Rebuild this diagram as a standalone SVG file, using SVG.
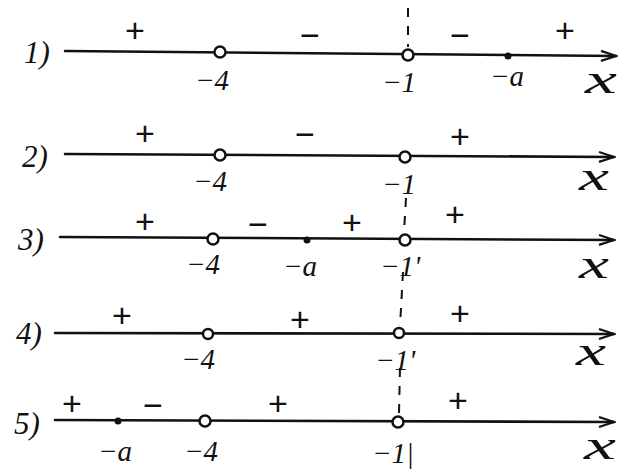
<svg xmlns="http://www.w3.org/2000/svg" width="629" height="473" viewBox="0 0 629 473">
<style>
.ax{stroke:#111;stroke-width:2.6;fill:none;stroke-linecap:round}
.oc{stroke:#111;stroke-width:2.5;fill:#fff}
.dt{fill:#111}
.t{font-family:"Liberation Serif",serif;font-style:italic;font-size:29px;fill:#111}
.x{font-family:"Liberation Serif",serif;font-style:italic;font-size:42px;fill:#111}
.s{font-family:"Liberation Sans",sans-serif;font-size:34px;fill:#111;text-anchor:middle}
.n{font-family:"Liberation Serif",serif;font-style:italic;font-size:31px;fill:#111}
</style>
<defs>
<marker id="ar" markerWidth="18" markerHeight="14" refX="16" refY="7" orient="auto" markerUnits="userSpaceOnUse">
<path d="M1,2 L16,7 L1,12" fill="none" stroke="#111" stroke-width="2.2"/>
</marker>
</defs>
<rect width="629" height="473" fill="#fff"/>
<g id="connectors">
<path d="M408,8 L408,47 M406,198 L404,232 M403,272 L400,326 M400,368 L399,414" stroke="#111" stroke-width="2" stroke-dasharray="9,9" fill="none"/>
</g>
<g id="line1">
<text class="n" x="24" y="63">1)</text>
<path class="ax" d="M65,51 L616,56" marker-end="url(#ar)"/>
<circle class="oc" cx="220" cy="52" r="5.5"/>
<circle class="oc" cx="408" cy="55" r="5.5"/>
<circle class="dt" cx="508" cy="56" r="3.5"/>
<text class="t" x="195" y="90">−4</text>
<text class="t" x="382" y="92">−1</text>
<text class="t" x="490" y="86">−a</text>
<text class="x" x="585" y="93" textLength="32" lengthAdjust="spacingAndGlyphs">x</text>
<text class="s" x="135" y="42">+</text>
<text class="s" x="310" y="47">−</text>
<text class="s" x="460" y="47">−</text>
<text class="s" x="565" y="42">+</text>
</g>
<g id="line2">
<text class="n" x="22" y="167">2)</text>
<path class="ax" d="M65,154 L614,157" marker-end="url(#ar)"/>
<circle class="oc" cx="220" cy="155" r="5.5"/>
<circle class="oc" cx="405" cy="157" r="5.5"/>
<text class="t" x="193" y="191">−4</text>
<text class="t" x="382" y="194">−1</text>
<text class="x" x="579" y="190" textLength="30" lengthAdjust="spacingAndGlyphs">x</text>
<text class="s" x="145" y="145">+</text>
<text class="s" x="305" y="146">−</text>
<text class="s" x="460" y="148">+</text>
</g>
<g id="line3">
<text class="n" x="18" y="250">3)</text>
<path class="ax" d="M60,237 L614,240" marker-end="url(#ar)"/>
<circle class="oc" cx="213" cy="239" r="5.5"/>
<circle class="dt" cx="307" cy="240" r="3.5"/>
<circle class="oc" cx="405" cy="240" r="5.5"/>
<text class="t" x="186" y="274">−4</text>
<text class="t" x="283" y="276">−a</text>
<text class="t" x="380" y="276">−1'</text>
<text class="x" x="579" y="278" textLength="30" lengthAdjust="spacingAndGlyphs">x</text>
<text class="s" x="145" y="233">+</text>
<text class="s" x="258" y="236">−</text>
<text class="s" x="352" y="234">+</text>
<text class="s" x="455" y="226">+</text>
</g>
<g id="line4">
<text class="n" x="16" y="344">4)</text>
<path class="ax" d="M55,333 L614,334" marker-end="url(#ar)"/>
<circle class="oc" cx="208" cy="334" r="5"/>
<circle class="oc" cx="399" cy="333" r="5"/>
<text class="t" x="181" y="369">−4</text>
<text class="t" x="375" y="370">−1'</text>
<text class="x" x="576" y="365" textLength="30" lengthAdjust="spacingAndGlyphs">x</text>
<text class="s" x="122" y="327">+</text>
<text class="s" x="300" y="331">+</text>
<text class="s" x="460" y="325">+</text>
</g>
<g id="line5">
<text class="n" x="14" y="434">5)</text>
<path class="ax" d="M55,420 L614,422" marker-end="url(#ar)"/>
<circle class="dt" cx="118" cy="421" r="3.5"/>
<circle class="oc" cx="205" cy="421" r="5.5"/>
<circle class="oc" cx="398" cy="422" r="5.5"/>
<text class="t" x="98" y="461">−a</text>
<text class="t" x="184" y="461">−4</text>
<text class="t" x="372" y="463">−1|</text>
<text class="x" x="584" y="459" textLength="32" lengthAdjust="spacingAndGlyphs">x</text>
<text class="s" x="72" y="415">+</text>
<text class="s" x="153" y="417">−</text>
<text class="s" x="278" y="415">+</text>
<text class="s" x="458" y="412">+</text>
</g>
</svg>
